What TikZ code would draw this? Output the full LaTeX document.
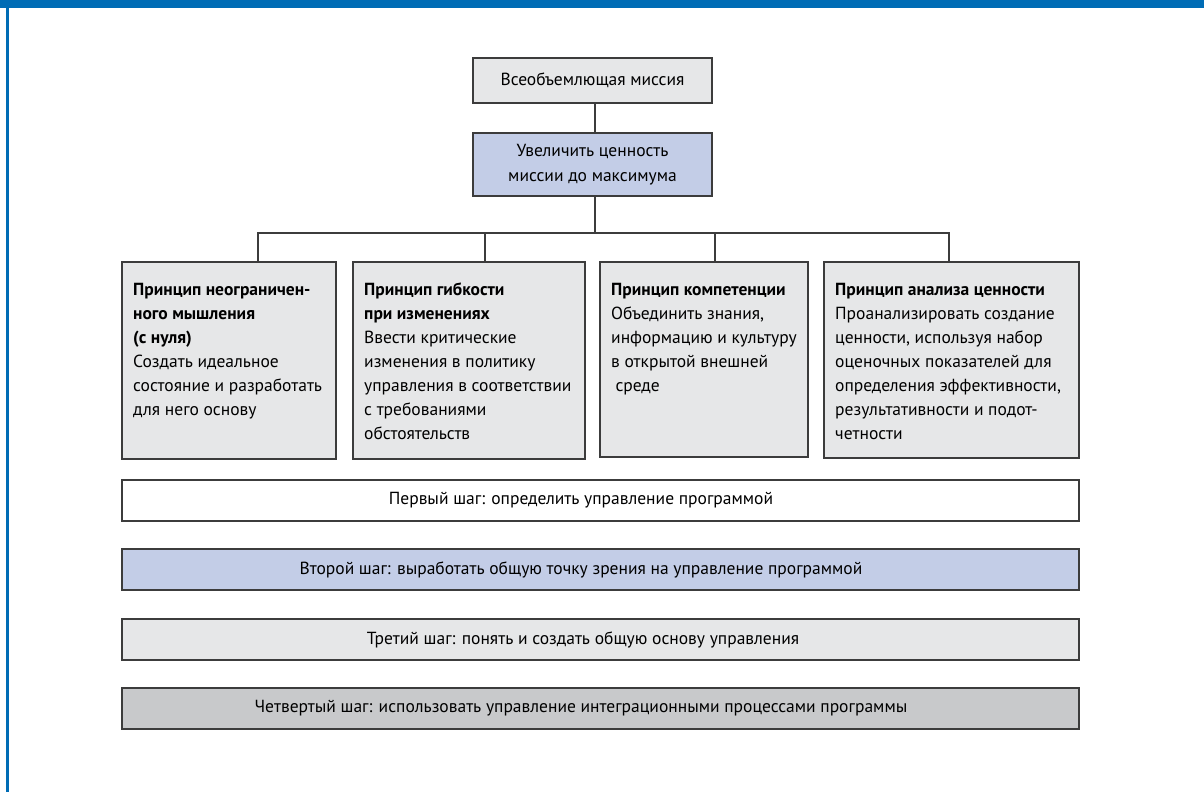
\documentclass[tikz,border=0pt]{standalone}
\usepackage{fontspec}
\setmainfont{PT Sans}
\definecolor{frameblue}{HTML}{006CB5}
\definecolor{lgray}{HTML}{E6E7E8}
\definecolor{lblue}{HTML}{C3CDE7}
\definecolor{dgray}{HTML}{C8C9CB}
\definecolor{edge}{HTML}{3C3C3C}
\begin{document}
\begin{tikzpicture}[x=1pt,y=-1pt,
  box/.style={draw=edge,line width=1.3pt,inner sep=0pt,outer sep=0pt,anchor=north west},
  plain/.style={font=\fontsize{17.5}{24}\selectfont,inner sep=0pt},
  conn/.style={draw=edge,line width=1.1pt}]
\useasboundingbox (0,0) rectangle (1204,792);
\fill[white] (0,0) rectangle (1204,792);
\fill[frameblue] (0,0) rectangle (1204,8);
\fill[frameblue] (6,0) rectangle (9,792);
% top
\node[box,fill=lgray,minimum width=239pt,minimum height=45pt] (top) at (473,58) {};
\node[plain] at (top.center) {Всеобъемлющая миссия};
\node[box,fill=lblue,minimum width=239pt,minimum height=63pt] (mid) at (473,133) {};
\node[plain,align=center,font=\fontsize{17.5}{25}\selectfont] at (mid.center) {Увеличить ценность\\миссии до максимума};
% principle boxes
\newcommand{\pbox}[6]{%
  \node[box,fill=lgray,minimum width=#3pt,minimum height=#4pt] (#5) at (#1,#2) {};
  \node[plain,anchor=north west] at ([xshift=11pt,yshift=-21pt]#5.north west)
    {\begin{minipage}[t]{\dimexpr#3pt-16pt\relax}\raggedright\fontsize{17.5}{24}\selectfont #6\end{minipage}};}
\pbox{122}{262}{214}{197}{p1}{\textbf{Принцип неограничен-\\ного мышления\\(с нуля)}\\Создать идеальное\\состояние и разработать\\для него основу}
\pbox{353}{262}{232}{197}{p2}{\textbf{Принцип гибкости\\при изменениях}\\Ввести критические\\изменения в политику\\управления в соответствии\\с требованиями\\обстоятельств}
\pbox{600}{262}{208}{195}{p3}{\textbf{Принцип компетенции}\\Объединить знания,\\информацию и культуру\\в открытой внешней\\\hspace*{0.25em}среде}
\pbox{824}{262}{255}{196}{p4}{\textbf{Принцип анализа ценности}\\Проанализировать создание\\ценности, используя набор\\оценочных показателей для\\определения эффективности,\\результативности и подот-\\четности}
% connectors
\coordinate (j) at (595,233);
\draw[conn] (595,103) -- (595,133);
\draw[conn] (mid.south -| j) -- (j);
\draw[conn] (258,262) |- (949,233) -- (949,262);
\draw[conn] (485,233) -- (485,262);
\draw[conn] (715,233) -- (715,262);
% steps
\node[box,fill=white,minimum width=957pt,minimum height=41pt] (s1) at (122,480) {};
\node[plain] at (581,500.5) {Первый шаг: определить управление программой};
\node[box,fill=lblue,minimum width=957pt,minimum height=41pt] (s2) at (122,549) {};
\node[plain] at (581,569.5) {Второй шаг: выработать общую точку зрения на управление программой};
\node[box,fill=lgray,minimum width=957pt,minimum height=41pt] (s3) at (122,619) {};
\node[plain] at (583,639.5) {Третий шаг: понять и создать общую основу управления};
\node[box,fill=dgray,minimum width=957pt,minimum height=41pt] (s4) at (122,688) {};
\node[plain] at (581,708.5) {Четвертый шаг: использовать управление интеграционными процессами программы};
\end{tikzpicture}
\end{document}
